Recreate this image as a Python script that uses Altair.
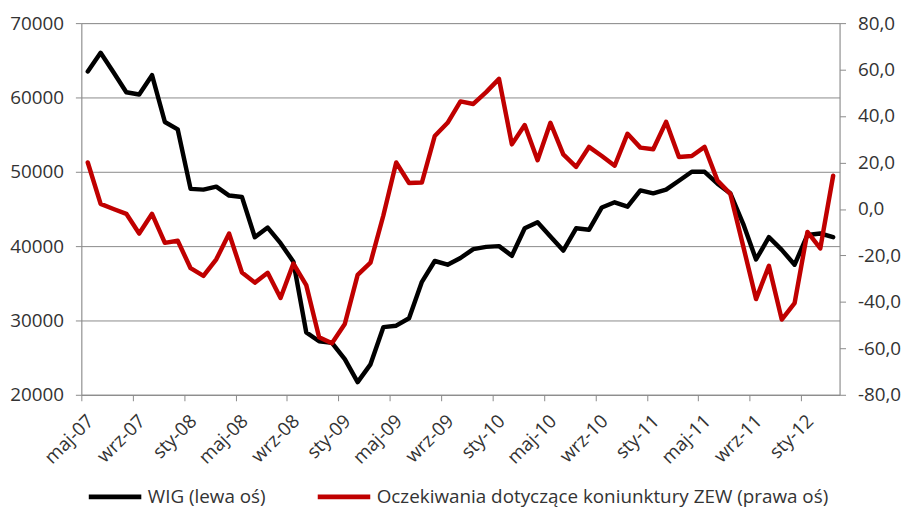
import json
import altair as alt
import pandas as pd

# ---- data ----
MONTHS_PL = ["sty", "lut", "mar", "kwi", "maj", "cze", "lip", "sie", "wrz", "paź", "lis", "gru"]
START = 2007 * 12 + 4  # maj-07
N = 59
categories = [f"{MONTHS_PL[(START + k) % 12]}-{((START + k) // 12) % 100:02d}" for k in range(N)]
tick_labels = categories[::4]

wig = [63500, 66000, 63400, 60700, 60400, 63000, 56700, 55700, 47700, 47600,
       48000, 46800, 46600, 41200, 42500, 40400, 37900, 28400, 27200, 27000,
       24800, 21700, 24100, 29100, 29300, 30300, 35200, 38000, 37500, 38400,
       39600, 39900, 40000, 38700, 42400, 43200, 41300, 39400, 42400, 42200,
       45200, 45900, 45300, 47500, 47100, 47600, 48800, 50000, 50000, 48400,
       47100, 43000, 38200, 41200, 39500, 37500, 41500, 41700, 41200]

zew = [20.0, 2.2, 0.0, -2.1, -10.6, -2.1, -14.6, -13.7, -25.5, -28.8,
       -21.7, -10.6, -27.4, -31.7, -27.5, -38.3, -23.5, -32.8, -55.2, -57.8,
       -49.5, -28.4, -23.1, -2.8, 20.0, 11.2, 11.4, 31.4, 37.1, 46.3,
       45.2, 50.3, 56.0, 27.8, 36.1, 21.0, 37.1, 23.5, 18.1, 26.7,
       22.8, 18.6, 32.4, 26.4, 25.7, 37.5, 22.4, 22.8, 26.7, 12.2,
       6.5, -16.0, -38.8, -24.5, -47.6, -40.5, -9.9, -17.0, 14.3]

SERIES = ["WIG (lewa oś)", "Oczekiwania dotyczące koniunktury ZEW (prawa oś)"]
COLORS = ["#000000", "#c00000"]

left_ticks = [20000, 30000, 40000, 50000, 60000, 70000]
right_ticks = [-80, -60, -40, -20, 0, 20, 40, 60, 80]

df = pd.DataFrame({"idx": list(range(N)), "miesiac": categories, "wig": wig, "zew": zew})

FONT = "Open Sans"
GRAY = "#8a8a8a"
TEXT = "#333333"
FS = 19

x_axis = alt.Axis(
    values=[-0.5 + 4 * k for k in range(len(tick_labels))],
    labelExpr=json.dumps(tick_labels) + "[round((datum.value + 0.5) / 4)]",
    labelAngle=-45, labelAlign="right", labelBaseline="middle",
    labelOffset=9, labelPadding=17, labelOverlap=False,
    tickSize=6, tickColor=GRAY, domainColor=GRAY, tickWidth=1, domainWidth=1,
    grid=False, title=None, labelFontSize=FS, labelColor=TEXT, labelFont=FONT,
)
x_enc = alt.X("idx:Q", scale=alt.Scale(domain=[-0.5, N - 0.5], nice=False, zero=False), axis=x_axis)

color_scale = alt.Scale(domain=SERIES, range=COLORS)
legend = alt.Legend(
    orient="none", legendX=5, legendY=449, direction="horizontal", title=None,
    symbolType="stroke", symbolSize=2809, symbolStrokeWidth=5,
    labelFontSize=FS, labelColor=TEXT, labelFont=FONT, labelOffset=4,
    columnPadding=42, labelLimit=700,
)
color_enc = alt.Color("serie:N", scale=color_scale, legend=legend)

base = alt.Chart(df)

wig_line = base.transform_calculate(serie=json.dumps(SERIES[0])).mark_line(
    strokeWidth=4.5, strokeCap="round", strokeJoin="round").encode(
    x=x_enc,
    y=alt.Y("wig:Q", scale=alt.Scale(domain=[20000, 70000], nice=False, zero=False),
            axis=alt.Axis(values=left_ticks, format="d", orient="left", grid=True,
                          gridColor=GRAY, gridWidth=1, domainColor=GRAY, tickColor=GRAY,
                          tickSize=6, labelPadding=12, labelFontSize=FS, labelColor=TEXT,
                          labelFont=FONT, title=None)),
    color=color_enc,
)

zew_line = base.transform_calculate(serie=json.dumps(SERIES[1])).mark_line(
    strokeWidth=4.5, strokeCap="round", strokeJoin="round").encode(
    x=x_enc,
    y=alt.Y("zew:Q", scale=alt.Scale(domain=[-80, 80], nice=False, zero=False),
            axis=alt.Axis(values=right_ticks, orient="right", grid=False,
                          labelExpr="(datum.value < 0 ? '-' : '') + replace(format(abs(datum.value), '.1f'), '.', ',')",
                          domainColor=GRAY, tickColor=GRAY, tickSize=6, labelPadding=12,
                          labelFontSize=FS, labelColor=TEXT, labelFont=FONT, title=None)),
    color=color_enc,
)

chart = (
    alt.layer(wig_line, zew_line)
    .resolve_scale(y="independent")
    .properties(
        width=765, height=375,
        padding={"left": 74, "top": 13, "right": 65, "bottom": 117},
        autosize=alt.AutoSizeParams(type="none"),
    )
    .configure_view(strokeWidth=0)
    .configure(font=FONT)
)

chart.save("out.html", embed_options={"renderer": "svg", "actions": False})
